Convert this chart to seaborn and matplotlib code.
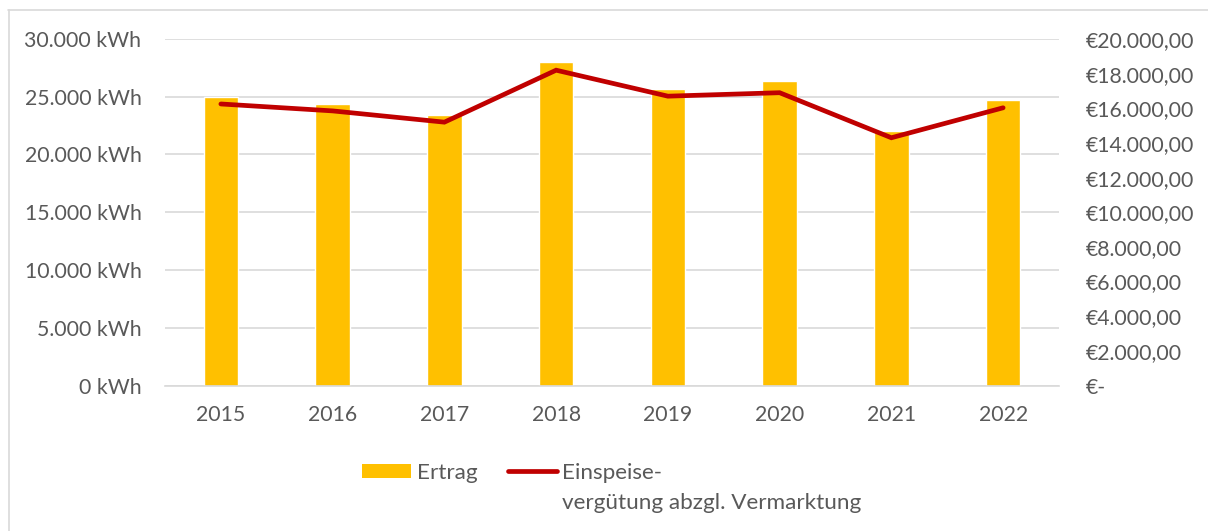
import matplotlib
matplotlib.use("Agg")
import matplotlib.pyplot as plt
import seaborn as sns
import pandas as pd
from matplotlib.ticker import FuncFormatter
from matplotlib.lines import Line2D
from matplotlib.patches import Rectangle

years = ["2015", "2016", "2017", "2018", "2019", "2020", "2021", "2022"]
ertrag_kwh = [25000, 24400, 23400, 28000, 25700, 26400, 22050, 24700]
verguetung_eur = [16250, 15850, 15200, 18200, 16700, 16900, 14300, 16030]

bar_label = "Ertrag"
line_label_1 = "Einspeise-"
line_label_2 = "vergütung abzgl. Vermarktung"

df = pd.DataFrame({"Jahr": years, "Ertrag": ertrag_kwh, "Verguetung": verguetung_eur})

sns.set_theme(style="white")
plt.rcParams["font.family"] = ["Lato", "DejaVu Sans"]

W, H = 1208, 531
FS = 15.3
FS_LEG = 16.2
fig = plt.figure(figsize=(W / 100, H / 100), dpi=100)
left = 165 / W
right = 1059 / W
top = 1 - 39 / H
bottom = 1 - 385.5 / H
ax = fig.add_axes([left, bottom, right - left, top - bottom])

text_color = "#595959"
grid_color = "#D9D9D9"
bar_color = "#FFC000"
line_color = "#C00000"

sns.barplot(data=df, x="Jahr", y="Ertrag", color=bar_color, width=0.31,
            saturation=1, ax=ax, zorder=2)
ax.set_ylim(0, 30000)
ax.set_xlim(-0.5, 7.5)
ax.set_yticks(range(0, 30001, 5000))
ax.yaxis.set_major_formatter(FuncFormatter(
    lambda v, p: f"{int(v):,}".replace(",", ".") + " kWh"))
ax.grid(axis="y", color=grid_color, linewidth=1.2, zorder=0)
ax.set_axisbelow(True)
ax.set_xlabel("")
ax.set_ylabel("")
for s in ["top", "right", "left"]:
    ax.spines[s].set_visible(False)
ax.spines["bottom"].set_color(grid_color)
ax.spines["bottom"].set_linewidth(1.2)
ax.tick_params(axis="both", length=0, labelsize=FS, colors=text_color)
ax.tick_params(axis="y", pad=17)
ax.tick_params(axis="x", pad=14)

ax2 = ax.twinx()
sns.lineplot(x=list(range(len(years))), y=verguetung_eur, ax=ax2, color=line_color,
             linewidth=3.4, solid_capstyle="round", solid_joinstyle="miter", zorder=3)
ax2.set_ylim(0, 20000)
ax2.set_yticks(range(0, 20001, 2000))


def eur(v, p):
    if v == 0:
        return "€-"
    s = f"{v:,.2f}"
    s = s.replace(",", "X").replace(".", ",").replace("X", ".")
    return "€" + s


ax2.yaxis.set_major_formatter(FuncFormatter(eur))
ax2.tick_params(axis="y", length=0, labelsize=FS, colors=text_color, pad=19)
for s in ["top", "right", "left", "bottom"]:
    ax2.spines[s].set_visible(False)
ax2.grid(False)
ax2.set_ylabel("")


def fx(px):
    return px / W


def fy(py):
    return 1 - py / H


# legend (drawn in figure pixel positions)
fig.add_artist(Rectangle((fx(362), fy(478)), fx(411) - fx(362), (478 - 464) / H,
                         facecolor=bar_color, edgecolor="none",
                         transform=fig.transFigure))
fig.text(fx(417), fy(471), bar_label, fontsize=FS_LEG, color=text_color,
         ha="left", va="center_baseline")
fig.add_artist(Line2D([fx(508), fx(557)], [fy(471), fy(471)], color=line_color,
                      linewidth=3.4, solid_capstyle="round",
                      transform=fig.transFigure))
fig.text(fx(562), fy(471), line_label_1, fontsize=FS_LEG, color=text_color,
         ha="left", va="center_baseline")
fig.text(fx(562), fy(501), line_label_2, fontsize=FS_LEG, color=text_color,
         ha="left", va="center_baseline")

# outer chart border (top and left visible)
fig.add_artist(Line2D([fx(8), 1], [fy(9.5), fy(9.5)], color=grid_color,
                      linewidth=1.2, transform=fig.transFigure))
fig.add_artist(Line2D([fx(8.5), fx(8.5)], [0, fy(9.5)], color=grid_color,
                      linewidth=1.2, transform=fig.transFigure))

fig.savefig("out.png", dpi=100, facecolor="white")
